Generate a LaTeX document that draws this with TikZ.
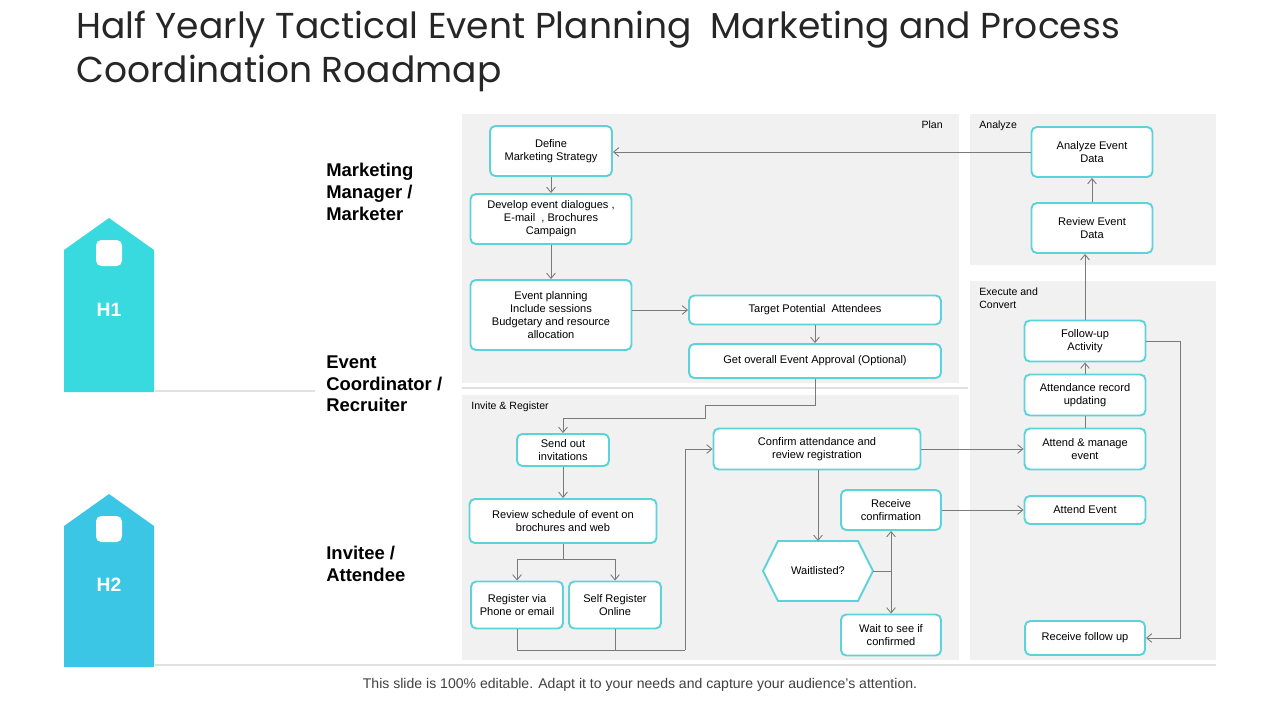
\documentclass[tikz,border=0pt]{standalone}
\usepackage{fontspec}
\setmainfont{Liberation Sans}
\newfontfamily\titlefont{Poppins}
\usetikzlibrary{shapes.geometric,arrows.meta}

\definecolor{Frame}{HTML}{5CD2DA}
\definecolor{Panel}{HTML}{F1F1F1}
\definecolor{TagA}{HTML}{38DADF}
\definecolor{TagB}{HTML}{3AC6E4}
\definecolor{Link}{HTML}{7A7A7A}

\tikzset{
  box/.style={draw=Frame, line width=1.1pt, rounded corners=3pt, fill=white, align=center,
    font=\fontsize{6.3}{7.4}\selectfont, inner sep=1pt},
  link/.style={draw=Link, line width=0.5pt, -{Straight Barb[length=3pt,width=5pt]}},
  plain/.style={draw=Link, line width=0.5pt},
  role/.style={font=\bfseries\fontsize{10.5}{12.5}\selectfont, align=left, anchor=north west, inner sep=0pt},
  panelname/.style={font=\fontsize{6}{7}\selectfont, anchor=north west, inner sep=0pt}
}

\begin{document}
\begin{tikzpicture}[x=0.02cm, y=-0.02cm]

 \useasboundingbox (0,0) rectangle (1280,720);

 %%%%%%%%%% Title %%%%%%%%%%
 \node[anchor=north west, align=left, inner sep=0pt, font=\titlefont\fontsize{20.5}{25}\selectfont, text=black!85]
   (title) at (76,11) {Half Yearly Tactical Event Planning\ \ Marketing and Process\\Coordination Roadmap};

 %%%%%%%%%% Panels %%%%%%%%%%
 \fill [Panel] (462,114) rectangle (959,383);
 \fill [Panel] (970,114) rectangle (1216,265);
 \fill [Panel] (970,281) rectangle (1216,660);
 \fill [Panel] (462,395) rectangle (959,660);
 \draw [black!12, line width=0.8pt] (462,388) -- (968,388);
 \draw [black!12, line width=0.8pt] (155,665) -- (1216,665);
 \draw [black!12, line width=0.8pt] (155,391) -- (315,391);

 \node[panelname, anchor=north east] (plan) at (943,121) {Plan};
 \node[panelname] (analyze) at (979,121) {Analyze};
 \node[panelname, align=left] (execute) at (979,288) {Execute and\\Convert};
 \node[panelname] (invite) at (471,402) {Invite \& Register};

 %%%%%%%%%% Tags %%%%%%%%%%
 \fill [TagA] (64,392) -- (64,250) -- (109,218) -- (154,250) -- (154,392) -- cycle;
 \fill [TagB] (64,667) -- (64,526) -- (109,494) -- (154,526) -- (154,667) -- cycle;
 \fill [white, rounded corners=3pt] (96,240) rectangle (122,266);
 \fill [white, rounded corners=3pt] (96,516) rectangle (122,542);
 \node[text=white, font=\bfseries\fontsize{11}{13}\selectfont] (h1) at (109,310) {H1};
 \node[text=white, font=\bfseries\fontsize{11}{13}\selectfont] (h2) at (109,585) {H2};

 %%%%%%%%%% Roles %%%%%%%%%%
 \node[role] (marketer) at (326,163) {Marketing\\Manager /\\Marketer};
 \node[role] (recruiter) at (326,355) {Event\\Coordinator /\\Recruiter};
 \node[role] (attendee) at (326,546) {Invitee /\\Attendee};

 %%%%%%%%%% Plan boxes %%%%%%%%%%
 \node[box, minimum width=122*0.02cm, minimum height=50*0.02cm] (define) at (551,151) {Define\\Marketing Strategy};
 \node[box, minimum width=161*0.02cm, minimum height=50*0.02cm] (develop) at (551,219) {Develop event dialogues ,\\E-mail\ \ , Brochures\\Campaign};
 \node[box, minimum width=161*0.02cm, minimum height=70*0.02cm] (planning) at (551,315) {Event planning\\Include sessions\\Budgetary and resource\\allocation};
 \node[box, minimum width=252*0.02cm, minimum height=29*0.02cm] (target) at (815,310) {Target Potential\ \ Attendees};
 \node[box, minimum width=252*0.02cm, minimum height=34*0.02cm] (approval) at (815,361) {Get overall Event Approval (Optional)};

 %%%%%%%%%% Analyze and execute boxes %%%%%%%%%%
 \node[box, minimum width=121*0.02cm, minimum height=50*0.02cm] (analyse) at (1092,152) {Analyze Event\\Data};
 \node[box, minimum width=121*0.02cm, minimum height=50*0.02cm] (reviewdata) at (1092,228) {Review Event\\Data};
 \node[box, minimum width=121*0.02cm, minimum height=41*0.02cm] (follow) at (1085,341) {Follow-up\\Activity};
 \node[box, minimum width=121*0.02cm, minimum height=41*0.02cm] (record) at (1085,395) {Attendance record\\updating};
 \node[box, minimum width=121*0.02cm, minimum height=41*0.02cm] (manage) at (1085,449) {Attend \& manage\\event};
 \node[box, minimum width=121*0.02cm, minimum height=28*0.02cm] (attend) at (1085,510) {Attend Event};
 \node[box, minimum width=120*0.02cm, minimum height=34*0.02cm] (followup) at (1085,638) {Receive follow up};

 %%%%%%%%%% Invite boxes %%%%%%%%%%
 \node[box, minimum width=92*0.02cm, minimum height=32*0.02cm] (send) at (563,450) {Send out\\invitations};
 \node[box, minimum width=187*0.02cm, minimum height=44*0.02cm] (schedule) at (563,521) {Review schedule of event on\\brochures and web};
 \node[box, minimum width=92*0.02cm, minimum height=47*0.02cm] (phone) at (517,605) {Register via\\Phone or email};
 \node[box, minimum width=92*0.02cm, minimum height=47*0.02cm] (online) at (615,605) {Self Register\\Online};
 \node[box, minimum width=207*0.02cm, minimum height=41*0.02cm] (confirm) at (817,449) {Confirm attendance and\\review registration};
 \node[box, minimum width=100*0.02cm, minimum height=40*0.02cm] (receive) at (891,510) {Receive\\confirmation};
 \node[box, minimum width=100*0.02cm, minimum height=41*0.02cm] (wait) at (891,635) {Wait to see if\\confirmed};

 %%%%%%%%%% Waitlist hexagon %%%%%%%%%%
 \coordinate (wl-w) at (763,571);
 \coordinate (wl-e) at (873,571);
 \coordinate (wl-n) at (818,541);
 \draw [draw=Frame, line width=1.1pt, fill=white] (wl-w) -- (778,541) -- (858,541) -- (wl-e) -- (858,601) -- (778,601) -- cycle;
 \node[font=\fontsize{6.3}{7.4}\selectfont] (waitlist) at (818,571) {Waitlisted?};

 %%%%%%%%%% Links %%%%%%%%%%
 \draw [link] (analyse.west) -- (define.east |- analyse.west);
 \draw [link] (define) -- (develop);
 \draw [link] (develop) -- (planning);
 \draw [link] (planning.east |- target.west) -- (target.west);
 \draw [link] (target) -- (approval);
 \draw [link] (approval.south) -- (815,405) -- (705,405) -- (705,418) -- (563,418) -- (send.north);
 \draw [link] (send) -- (schedule);
 \draw [plain] (schedule.south) -- (563,559);
 \draw [link] (563,559) -| (phone.north);
 \draw [link] (563,559) -| (online.north);
 \draw [plain] (phone.south) -- (517,650) -- (685,650);
 \draw [plain] (online.south) -- (615,650);
 \draw [link] (685,650) |- (confirm.west);
 \draw [link] (confirm.east) -- (manage.west);
 \draw [link] (confirm.south -| wl-n) -- (wl-n);
 \draw [plain] (wl-e) -- (891,571);
 \draw [link] (891,571) -- (receive.south);
 \draw [link] (891,571) -- (wait.north);
 \draw [link] (receive.east) -- (attend.west);
 \draw [plain] (manage) -- (record);
 \draw [link] (record) -- (follow);
 \draw [link] (follow.north) -- (follow.north |- reviewdata.south);
 \draw [link] (reviewdata) -- (analyse);
 \draw [link] (follow.east) -- (1180,341) |- (followup.east);

 %%%%%%%%%% Footer %%%%%%%%%%
 \node[text=black!75, font=\fontsize{8}{10}\selectfont] (footer) at (640,685)
   {This slide is 100\% editable. Adapt it to your needs and capture your audience's attention.};

\end{tikzpicture}
\end{document}
